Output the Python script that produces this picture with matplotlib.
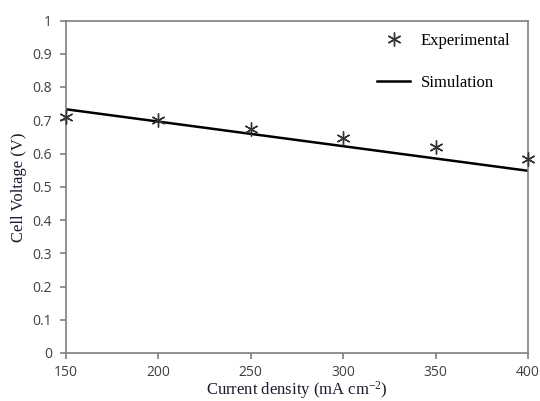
import matplotlib.pyplot as plt

# Data
current = [150, 200, 250, 300, 350, 400]
exp_voltage = [0.71, 0.70, 0.675, 0.648, 0.62, 0.583]
sim_current = [150, 400]
sim_voltage = [0.733, 0.548]

plt.rcParams['mathtext.fontset'] = 'custom'
plt.rcParams['mathtext.rm'] = 'Liberation Serif'

fig = plt.figure(figsize=(5.4, 4.01), dpi=100)
ax = fig.add_axes([66 / 540, 48 / 401, 462 / 540, 332.5 / 401])

ax.plot(sim_current, sim_voltage, color='black', linewidth=1.8, label='Simulation', zorder=2)
ax.plot(current, exp_voltage, linestyle='none', marker=(6, 2, 0), markersize=10,
        markeredgecolor='#333333', markeredgewidth=1.0, label='Experimental',
        clip_on=False, zorder=3)

ax.set_xlim(150, 400)
ax.set_ylim(0, 1)
ax.set_xticks(range(150, 401, 50))
ax.set_yticks([0, 0.1, 0.2, 0.3, 0.4, 0.5, 0.6, 0.7, 0.8, 0.9, 1])
ax.set_yticklabels(['0', '0.1', '0.2', '0.3', '0.4', '0.5', '0.6', '0.7', '0.8', '0.9', '1'])

for s in ax.spines.values():
    s.set_color('#7f7f7f')
    s.set_linewidth(1.2)
ax.tick_params(direction='out', length=4, width=1.2, color='#7f7f7f',
               labelcolor='#404040', labelsize=10)
ax.tick_params(axis='x', pad=5)
ax.tick_params(axis='y', pad=6)
for lab in ax.get_xticklabels() + ax.get_yticklabels():
    lab.set_family('Open Sans')

ax.set_xlabel('Current density (mA cm$\\mathregular{^{-2}}$)', family='Liberation Serif',
              fontsize=12, color='#1a1a2e', labelpad=-1)
ax.set_ylabel('Cell Voltage (V)', family='Liberation Serif',
              fontsize=12, color='#1a1a2e', labelpad=4)

h, l = ax.get_legend_handles_labels()
ax.legend(h[::-1], l[::-1], loc='upper right', bbox_to_anchor=(1 - 8 / 462, 1 - 2 / 332),
          frameon=False, prop={'family': 'Liberation Serif', 'size': 12},
          handlelength=2.0, handletextpad=0.6, labelspacing=1.6,
          borderaxespad=0.3, borderpad=0.3)

fig.savefig('out.png', dpi=100)
